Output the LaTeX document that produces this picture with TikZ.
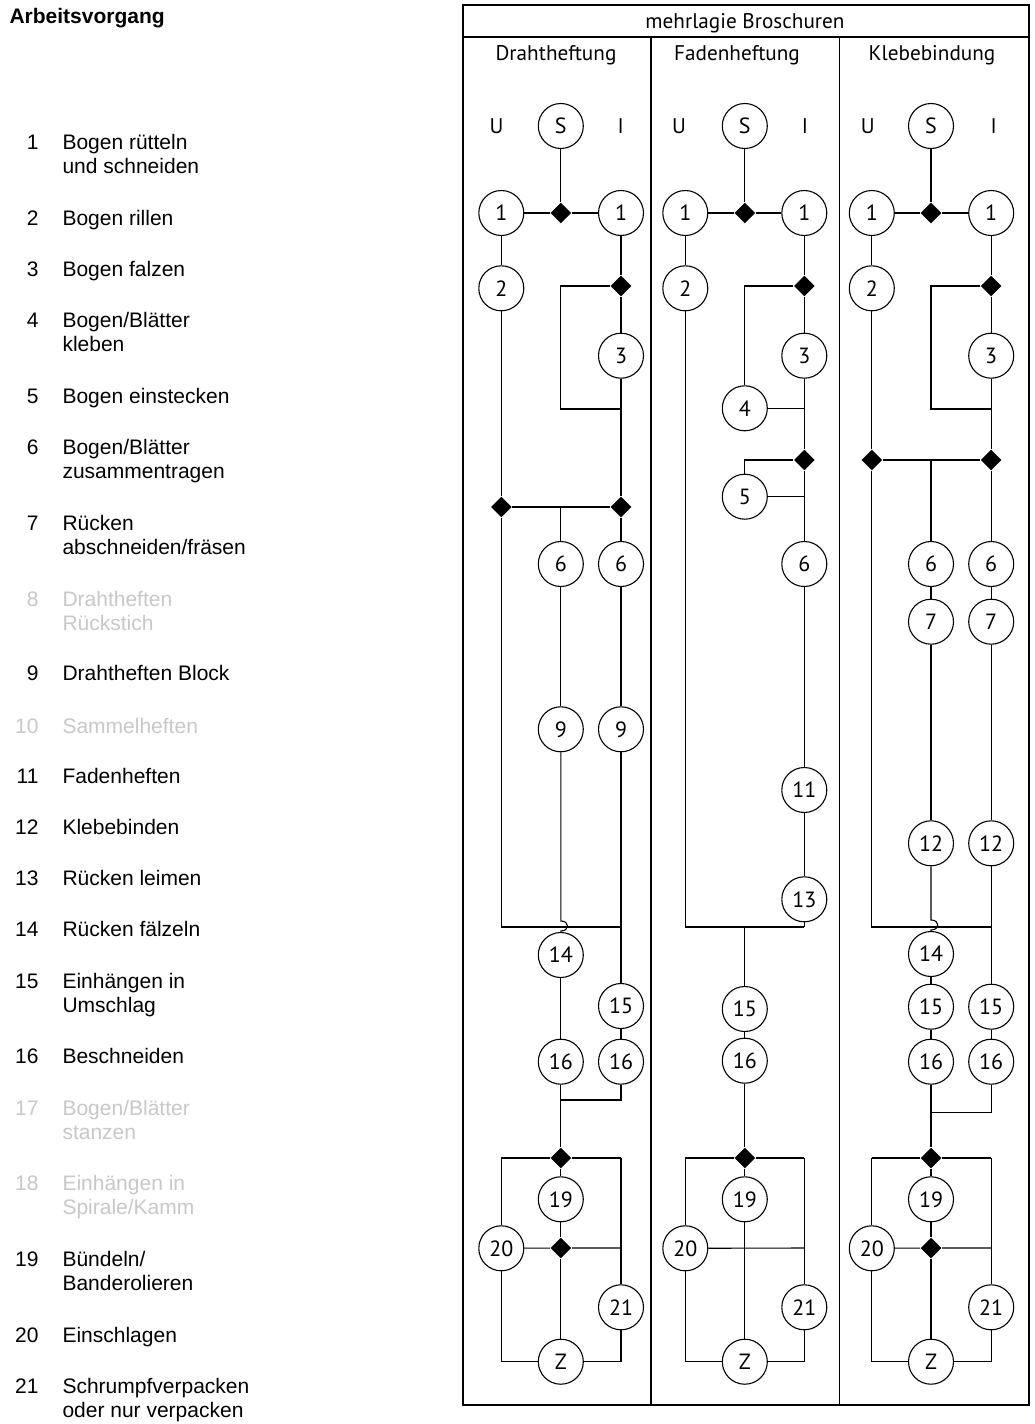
\documentclass[tikz,border=0pt]{standalone}
\usepackage{fontspec}
\setmainfont{Liberation Sans}
\newfontfamily\myr{PT Sans}
\usetikzlibrary{shapes.geometric}
\definecolor{gr}{RGB}{200,200,200}
\newcommand\two[2]{\begin{tabular}[t]{@{}l@{}}#1\\#2\end{tabular}}
\begin{document}
\begin{tikzpicture}[x=0.5pt,y=-0.5pt,line width=0.55pt,
  st/.style={draw, circle, minimum size=22.5pt, inner sep=0pt, font=\myr\fontsize{11}{13}\selectfont},
  lbl/.style={inner sep=0pt, font=\myr\fontsize{10.6}{12}\selectfont},
  dmd/.style={diamond, fill=black, minimum width=10.5pt, minimum height=10.5pt, inner sep=0pt},
  num/.style={anchor=base east, inner sep=0pt, font=\fontsize{10.5}{12}\selectfont},
  itm/.style={anchor=base west, inner sep=0pt, font=\fontsize{10.5}{12}\selectfont},
  head/.style={anchor=base west, inner sep=0pt, font=\bfseries\fontsize{10.5}{12}\selectfont}]
\fill[white] (0,0) rectangle (1034,1424);
\useasboundingbox (0,0) rectangle (1034,1424);

% ---------------- left legend ----------------
\node[head] (hd) at (9,24) {Arbeitsvorgang};
\node[num] (n1) at (39,149) {1}; \node[itm] (t1) at (62,149) {\two{Bogen rütteln}{und schneiden}};
\node[num] (n2) at (39,225) {2}; \node[itm] (t2) at (62,225) {Bogen rillen};
\node[num] (n3) at (39,276) {3}; \node[itm] (t3) at (62,276) {Bogen falzen};
\node[num] (n4) at (39,327) {4}; \node[itm] (t4) at (62,327) {\two{Bogen/Blätter}{kleben}};
\node[num] (n5) at (39,403) {5}; \node[itm] (t5) at (62,403) {Bogen einstecken};
\node[num] (n6) at (39,454) {6}; \node[itm] (t6) at (62,454) {\two{Bogen/Blätter}{zusammentragen}};
\node[num] (n7) at (39,530) {7}; \node[itm] (t7) at (62,530) {\two{Rücken}{abschneiden/fräsen}};
\node[num,gr] (n8) at (39,606) {8}; \node[itm,gr] (t8) at (62,606) {\two{Drahtheften}{Rückstich}};
\node[num] (n9) at (39,680) {9}; \node[itm] (t9) at (62,680) {Drahtheften Block};
\node[num,gr] (n10) at (39,733) {10}; \node[itm,gr] (t10) at (62,733) {Sammelheften};
\node[num] (n11) at (39,783) {11}; \node[itm] (t11) at (62,783) {Fadenheften};
\node[num] (n12) at (39,834) {12}; \node[itm] (t12) at (62,834) {Klebebinden};
\node[num] (n13) at (39,885) {13}; \node[itm] (t13) at (62,885) {Rücken leimen};
\node[num] (n14) at (39,936) {14}; \node[itm] (t14) at (62,936) {Rücken fälzeln};
\node[num] (n15) at (39,988) {15}; \node[itm] (t15) at (62,988) {\two{Einhängen in}{Umschlag}};
\node[num] (n16) at (39,1063) {16}; \node[itm] (t16) at (62,1063) {Beschneiden};
\node[num,gr] (n17) at (39,1115) {17}; \node[itm,gr] (t17) at (62,1115) {\two{Bogen/Blätter}{stanzen}};
\node[num,gr] (n18) at (39,1190) {18}; \node[itm,gr] (t18) at (62,1190) {\two{Einhängen in}{Spirale/Kamm}};
\node[num] (n19) at (39,1266) {19}; \node[itm] (t19) at (62,1266) {\two{Bündeln/}{Banderolieren}};
\node[num] (n20) at (39,1342) {20}; \node[itm] (t20) at (62,1342) {Einschlagen};
\node[num] (n21) at (39,1393) {21}; \node[itm] (t21) at (62,1393) {\two{Schrumpfverpacken}{oder nur verpacken}};

% ---------------- frame ----------------
\draw (463,5) rectangle (1029,1405);
\draw (463,37) -- (1029,37);
\draw (651,37) -- (651,1405);
\draw (839.7,37) -- (839.7,1405);
\node[lbl,anchor=base] (hdr) at (745,28) {mehrlagie Broschuren};
\node[lbl,anchor=base] (tA) at (556,60) {Drahtheftung};
\node[lbl,anchor=base] (tB) at (737,60) {Fadenheftung};
\node[lbl,anchor=base] (tC) at (932,60) {Klebebindung};

% ---------------- column A: Drahtheftung ----------------
\node[st] (A-S) at (560.8,126) {S};
\node[lbl] (A-U) at (496.5,126) {U};
\node[lbl] (A-I) at (620.6,126) {I};
\node[st] (A-1u) at (501.3,213) {1};
\node[dmd] (A-d1) at (560.8,213) {};
\node[st] (A-1i) at (621,213) {1};
\node[st] (A-2) at (501.3,288.3) {2};
\node[dmd] (A-d2) at (621,286) {};
\node[st] (A-3) at (621,355.7) {3};
\coordinate (A-c2) at (560.8,409);
\coordinate (A-c3) at (621,409);
\node[dmd] (A-d3) at (501.3,507) {};
\node[dmd] (A-d4) at (621,507) {};
\coordinate (A-c4) at (560.8,507);
\node[st] (A-6m) at (560.8,564) {6};
\node[st] (A-6i) at (621,564) {6};
\node[st] (A-9m) at (560.8,729.3) {9};
\node[st] (A-9i) at (621,729.3) {9};
\coordinate (A-c5) at (621,927);
\coordinate (A-h1) at (560.8,921);
\coordinate (A-h2) at (560.8,931);
\node[st] (A-14) at (560.8,955) {14};
\node[st] (A-15) at (621,1006) {15};
\node[st] (A-16m) at (560.8,1061.7) {16};
\node[st] (A-16i) at (621,1061.7) {16};
\coordinate (A-c6) at (560.8,1100);
\node[dmd] (A-d5) at (560.8,1158) {};
\coordinate (A-c8) at (501.3,1158);
\coordinate (A-c9) at (621,1158);
\node[st] (A-19) at (560.8,1199.3) {19};
\node[st] (A-20) at (501.3,1248.3) {20};
\node[dmd] (A-d6) at (560.8,1248) {};
\coordinate (A-c10) at (621,1248);
\node[st] (A-21) at (621,1307.3) {21};
\node[st] (A-Z) at (560.8,1361.7) {Z};

\draw (A-S) -- (A-d1);
\draw (A-1u) -- (A-d1) -- (A-1i);
\draw (A-1u) -- (A-2);
\draw (A-2) -- (A-d3);
\draw (A-1i) -- (A-d2) -- (A-3) -- (A-d4);
\draw (A-d2) -| (A-c2) -- (A-c3);
\draw (A-d3) -- (A-d4);
\draw (A-c4) -- (A-6m);
\draw (A-d4) -- (A-6i);
\draw (A-6m) -- (A-9m);
\draw (A-6i) -- (A-9i);
\draw (A-d3) |- (A-c5);
\draw (A-9i) -- (A-15) -- (A-16i);
\draw (A-9m) -- (A-h1) .. controls +(9,0) and +(9,0) .. (A-h2) -- (A-14);
\draw (A-14) -- (A-16m);
\draw (A-16i) |- (A-c6);
\draw (A-16m) -- (A-d5);
\draw (A-c8) -- (A-d5) -- (A-c9);
\draw (A-d5) -- (A-19) -- (A-d6) -- (A-Z);
\draw (A-20) -- (A-d6) -- (A-c10);
\draw (A-c8) -- (A-20);
\draw (A-c9) -- (A-21);
\draw (A-20) |- (A-Z);
\draw (A-21) |- (A-Z);

% ---------------- column B: Fadenheftung ----------------
\node[st] (B-S) at (744.8,126) {S};
\node[lbl] (B-U) at (679,126) {U};
\node[lbl] (B-I) at (805,126) {I};
\node[st] (B-1u) at (685.3,213) {1};
\node[dmd] (B-d1) at (744.8,213) {};
\node[st] (B-1i) at (804.3,213) {1};
\node[st] (B-2) at (685.3,288.3) {2};
\node[dmd] (B-d2) at (804.3,286) {};
\node[st] (B-3) at (804.3,355.7) {3};
\node[st] (B-4) at (744.8,408.3) {4};
\node[dmd] (B-d3) at (804.3,460) {};
\node[st] (B-5) at (744.8,496.7) {5};
\node[st] (B-6) at (804.3,564) {6};
\node[st] (B-11) at (804.3,790) {11};
\node[st] (B-13) at (804.3,899.3) {13};
\coordinate (B-c6) at (804.3,927);
\coordinate (B-c7) at (744.8,927);
\node[st] (B-15) at (744.8,1009) {15};
\node[st] (B-16) at (744.8,1060.7) {16};
\node[dmd] (B-d5) at (744.8,1158) {};
\coordinate (B-c8) at (685.3,1158);
\coordinate (B-c9) at (804.3,1158);
\node[st] (B-19) at (744.8,1199.3) {19};
\node[st] (B-20) at (685.3,1248.3) {20};
\coordinate (B-c10) at (804.3,1248);
\node[st] (B-21) at (804.3,1307.3) {21};
\node[st] (B-Z) at (744.8,1361.7) {Z};

\draw (B-S) -- (B-d1);
\draw (B-1u) -- (B-d1) -- (B-1i);
\draw (B-1u) -- (B-2);
\draw (B-2) |- (B-c6);
\draw (B-13) -- (B-c6);
\draw (B-1i) -- (B-d2) -- (B-3) -- (B-d3) -- (B-6) -- (B-11) -- (B-13);
\draw (B-d2) -| (B-4);
\draw (B-4) -- (B-4 -| B-3);
\draw (B-d3) -| (B-5);
\draw (B-5) -- (B-5 -| B-3);
\draw (B-c7) -- (B-15) -- (B-16) -- (B-d5);
\draw (B-c8) -- (B-d5) -- (B-c9);
\draw (B-d5) -- (B-19) -- (B-Z);
\draw (B-20) -- (B-c10);
\draw (B-c8) -- (B-20);
\draw (B-c9) -- (B-21);
\draw (B-20) |- (B-Z);
\draw (B-21) |- (B-Z);

% ---------------- column C: Klebebindung ----------------
\node[st] (C-S) at (931,126) {S};
\node[lbl] (C-U) at (867.8,126) {U};
\node[lbl] (C-I) at (993.8,126) {I};
\node[st] (C-1u) at (871.8,213) {1};
\node[dmd] (C-d1) at (931,213) {};
\node[st] (C-1i) at (991.2,213) {1};
\node[st] (C-2) at (871.8,288.3) {2};
\node[dmd] (C-d2) at (991.2,286) {};
\node[st] (C-3) at (991.2,355.7) {3};
\coordinate (C-c2) at (931,409);
\coordinate (C-c3) at (991.2,409);
\node[dmd] (C-d3) at (871.8,460) {};
\node[dmd] (C-d4) at (991.2,460) {};
\coordinate (C-c4) at (931,460);
\node[st] (C-6m) at (931,564) {6};
\node[st] (C-6i) at (991.2,564) {6};
\node[st] (C-7m) at (931,621.7) {7};
\node[st] (C-7i) at (991.2,621.7) {7};
\node[st] (C-12m) at (931,843.3) {12};
\node[st] (C-12i) at (991.2,843.3) {12};
\coordinate (C-c6) at (991.2,927);
\coordinate (C-h1) at (931,920);
\coordinate (C-h2) at (931,930);
\node[st] (C-14) at (931,954) {14};
\node[st] (C-15m) at (931,1006.7) {15};
\node[st] (C-15i) at (991.2,1006.7) {15};
\node[st] (C-16m) at (931,1061.7) {16};
\node[st] (C-16i) at (991.2,1061.7) {16};
\coordinate (C-c7) at (931,1112.7);
\node[dmd] (C-d5) at (931,1158) {};
\coordinate (C-c8) at (871.8,1158);
\coordinate (C-c9) at (991.2,1158);
\node[st] (C-19) at (931,1199.3) {19};
\node[st] (C-20) at (871.8,1248.3) {20};
\node[dmd] (C-d6) at (931,1248) {};
\coordinate (C-c10) at (991.2,1248);
\node[st] (C-21) at (991.2,1307.3) {21};
\node[st] (C-Z) at (931,1361.7) {Z};

\draw (C-S) -- (C-d1);
\draw (C-1u) -- (C-d1) -- (C-1i);
\draw (C-1u) -- (C-2);
\draw (C-2) -- (C-d3);
\draw (C-1i) -- (C-d2) -- (C-3) -- (C-d4);
\draw (C-d2) -| (C-c2) -- (C-c3);
\draw (C-d3) -- (C-d4);
\draw (C-c4) -- (C-6m);
\draw (C-d4) -- (C-6i);
\draw (C-6m) -- (C-7m) -- (C-12m);
\draw (C-6i) -- (C-7i) -- (C-12i);
\draw (C-d3) |- (C-c6);
\draw (C-12i) -- (C-15i) -- (C-16i);
\draw (C-12m) -- (C-h1) .. controls +(9,0) and +(9,0) .. (C-h2) -- (C-14);
\draw (C-14) -- (C-15m) -- (C-16m);
\draw (C-16i) |- (C-c7);
\draw (C-16m) -- (C-d5);
\draw (C-c8) -- (C-d5) -- (C-c9);
\draw (C-d5) -- (C-19) -- (C-d6) -- (C-Z);
\draw (C-20) -- (C-d6) -- (C-c10);
\draw (C-c8) -- (C-20);
\draw (C-c9) -- (C-21);
\draw (C-20) |- (C-Z);
\draw (C-21) |- (C-Z);
\end{tikzpicture}
\end{document}
